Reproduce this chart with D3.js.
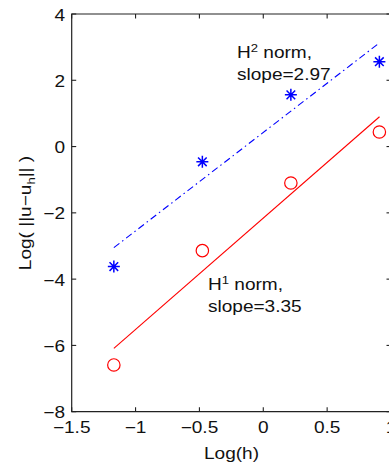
<!DOCTYPE html>
<html>
<head>
<meta charset="utf-8">
<script src="https://cdn.jsdelivr.net/npm/d3@7"></script>
<style>
html,body{margin:0;padding:0;background:#fff;}
svg{display:block;}
text{font-family:"Liberation Sans",Arial,Helvetica,sans-serif;fill:#111;}
</style>
</head>
<body>
<svg id="chart" width="389" height="466"></svg>
<script>
// ---- data ----
const logH = [-1.17, -0.477, 0.216, 0.909];
const errH2 = [-3.62, -0.46, 1.56, 2.56];
const errH1 = [-6.59, -3.14, -1.10, 0.44];
const fitX = [-1.17, 0.91];
const fitH2 = [-3.05, 3.13];
const fitH1 = [-6.09, 0.90];
const xTicks = [-1.5, -1, -0.5, 0, 0.5, 1];
const xTickLabels = ["\u22121.5", "\u22121", "\u22120.5", "0", "0.5", "1"];
const yTicks = [-8, -6, -4, -2, 0, 2, 4];
const yTickLabels = ["\u22128", "\u22126", "\u22124", "\u22122", "0", "2", "4"];
const noteH2 = ["norm,", "slope=2.97"];
const noteH1 = ["norm,", "slope=3.35"];

// ---- layout ----
const svg = d3.select("#chart");
const SX = 1.19; // horizontal text stretch
const FS = 16;
const x = d3.scaleLinear().domain([-1.5, 1]).range([71.7, 391]);
const y = d3.scaleLinear().domain([-8, 4]).range([411.7, 14]);
const axisColor = "#222";
const tickLen = 4.5;

function stretchedText(px, py, anchor, size) {
  const g = svg.append("g").attr("transform", `translate(${px},${py}) scale(${SX},1)`);
  return g.append("text").attr("x", 0).attr("y", 0)
    .attr("text-anchor", anchor).style("font-size", (size || FS) + "px");
}

// frame
const x0 = x.range()[0], x1 = x.range()[1], y0 = y.range()[0], y1 = y.range()[1];
svg.append("path")
  .attr("d", `M${x0},${y1}H${x1}V${y0}H${x0}Z`)
  .attr("fill", "none").attr("stroke", axisColor).attr("stroke-width", 1.2);

// ticks (inward, all four sides)
const tg = svg.append("g").attr("stroke", axisColor).attr("stroke-width", 1.1);
xTicks.forEach(t => {
  tg.append("line").attr("x1", x(t)).attr("x2", x(t)).attr("y1", y0).attr("y2", y0 - tickLen);
  tg.append("line").attr("x1", x(t)).attr("x2", x(t)).attr("y1", y1).attr("y2", y1 + tickLen);
});
yTicks.forEach(t => {
  tg.append("line").attr("x1", x0).attr("x2", x0 + tickLen).attr("y1", y(t)).attr("y2", y(t));
  tg.append("line").attr("x1", x1).attr("x2", x1 - tickLen).attr("y1", y(t)).attr("y2", y(t));
});

// tick labels
xTicks.forEach((t, i) => {
  stretchedText(x(t), 433, "middle").text(xTickLabels[i]);
});
yTicks.forEach((t, i) => {
  stretchedText(65, y(t) + 6.5, "end").text(yTickLabels[i]);
});

// axis titles
stretchedText(231.5, 459, "middle").text("Log(h)");
{
  const g = svg.append("g").attr("transform", `translate(31,213) rotate(-90) scale(${SX},1)`);
  const t = g.append("text").attr("text-anchor", "middle").style("font-size", FS + "px");
  t.append("tspan").text("Log( ||u\u2212u");
  t.append("tspan").attr("dy", 4).style("font-size", "11px").text("h");
  t.append("tspan").attr("dy", -4).text("|| )");
}

// fit lines
const line = d3.line().x(d => x(d[0])).y(d => y(d[1]));
svg.append("path").datum(fitX.map((v, i) => [v, fitH2[i]]))
  .attr("d", line).attr("fill", "none").attr("stroke", "#0000ff")
  .attr("stroke-width", 1.1).attr("stroke-dasharray", "7,3.5,1.5,3.5");
svg.append("path").datum(fitX.map((v, i) => [v, fitH1[i]]))
  .attr("d", line).attr("fill", "none").attr("stroke", "#ff0000")
  .attr("stroke-width", 1.1);

// H2 markers: asterisks
const r = 6, rd = r * 0.72;
const star = `M0,${-r}V${r}M${-r},0H${r}M${-rd},${-rd}L${rd},${rd}M${-rd},${rd}L${rd},${-rd}`;
svg.append("g").selectAll("path").data(logH.map((v, i) => [v, errH2[i]]))
  .join("path")
  .attr("transform", d => `translate(${x(d[0])},${y(d[1])})`)
  .attr("d", star).attr("fill", "none").attr("stroke", "#0000ff").attr("stroke-width", 1.5);

// H1 markers: circles
svg.append("g").selectAll("circle").data(logH.map((v, i) => [v, errH1[i]]))
  .join("circle")
  .attr("cx", d => x(d[0])).attr("cy", d => y(d[1])).attr("r", 6.2)
  .attr("fill", "none").attr("stroke", "#ff0000").attr("stroke-width", 1.2);

// annotations
function note(px, py, sup, lines) {
  const t1 = stretchedText(px, py, "start");
  t1.append("tspan").text("H");
  t1.append("tspan").attr("dy", -6).style("font-size", "11px").text(sup);
  t1.append("tspan").attr("dy", 6).text(" " + lines[0]);
  stretchedText(px, py + 22, "start").text(lines[1]);
}
note(237, 58.3, "2", noteH2);
note(208, 290, "1", noteH1);
</script>
</body>
</html>
